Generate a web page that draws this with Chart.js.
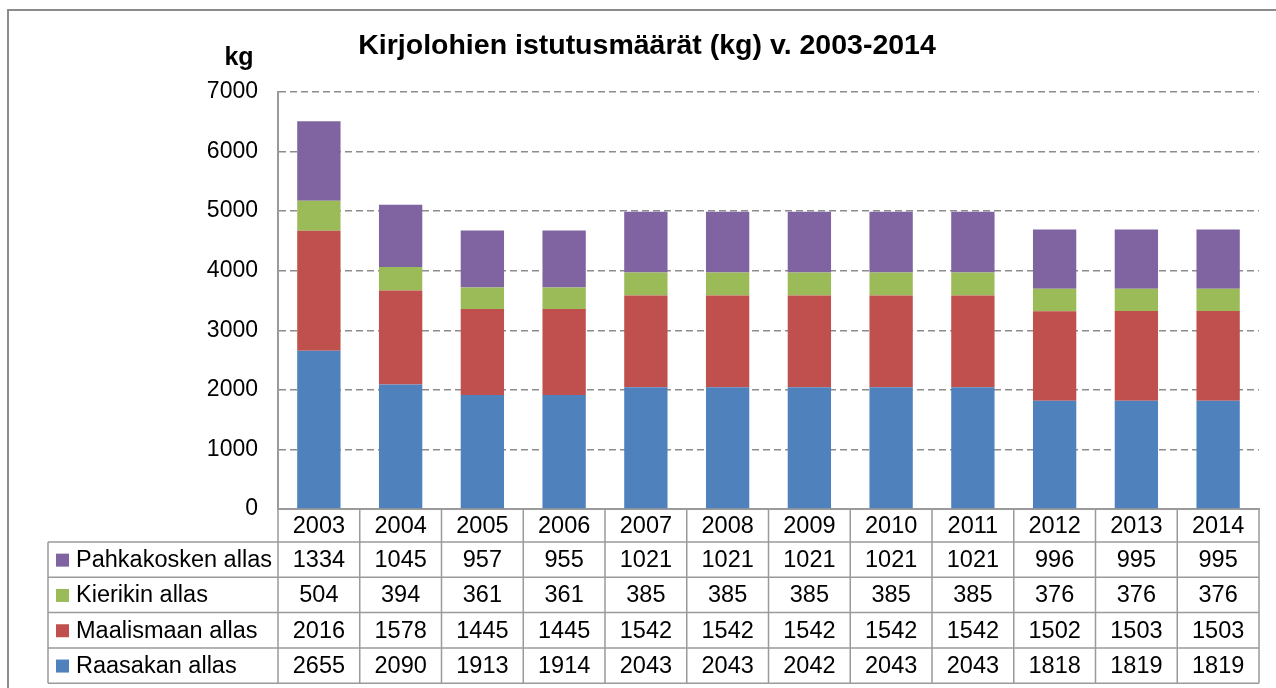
<!DOCTYPE html>
<html>
<head>
<meta charset="utf-8">
<script src="https://cdn.jsdelivr.net/npm/chart.js@4"></script>
<style>
  html, body { margin: 0; padding: 0; background: #fff; }
  #wrap { width: 1276px; height: 688px; }
</style>
</head>
<body>
<div id="wrap"><canvas id="chart" width="1276" height="688"></canvas></div>
<script>
const years = ['2003', '2004', '2005', '2006', '2007', '2008', '2009', '2010', '2011', '2012', '2013', '2014'];
const raasakan = [2655, 2090, 1913, 1914, 2043, 2043, 2042, 2043, 2043, 1818, 1819, 1819];
const maalismaan = [2016, 1578, 1445, 1445, 1542, 1542, 1542, 1542, 1542, 1502, 1503, 1503];
const kierikin = [504, 394, 361, 361, 385, 385, 385, 385, 385, 376, 376, 376];
const pahkakosken = [1334, 1045, 957, 955, 1021, 1021, 1021, 1021, 1021, 996, 995, 995];

const FONT = '"Liberation Sans", Arial, sans-serif';
const LINE = '#9a9a9a';

const datasets = [
    {label: 'Raasakan allas', data: raasakan, backgroundColor: '#4f81bd'},
    {label: 'Maalismaan allas', data: maalismaan, backgroundColor: '#c0504d'},
    {label: 'Kierikin allas', data: kierikin, backgroundColor: '#9bbb59'},
    {label: 'Pahkakosken allas', data: pahkakosken, backgroundColor: '#8064a2'},
];

// draws the frame, title, unit label and the data table under the bars
const tablePlugin = {
    id: 'dataTable',
    afterDraw(chart) {
        const ctx = chart.ctx;
        const area = chart.chartArea;
        const n = years.length;
        const colW = (area.right - area.left) / n;
        const tableLeft = 48;
        const yearTop = area.bottom;
        const rowTop = 542;
        const rowH = 35.3;
        const rows = [datasets[3], datasets[2], datasets[1], datasets[0]];

        ctx.save();
        // outer frame
        ctx.strokeStyle = '#8c8c8c';
        ctx.lineWidth = 2;
        ctx.strokeRect(8, 10, 1300, 700);

        // title + unit
        ctx.fillStyle = '#000';
        ctx.textAlign = 'center';
        ctx.textBaseline = 'middle';
        ctx.font = 'bold 28.5px ' + FONT;
        ctx.fillText('Kirjolohien istutusmäärät (kg) v. 2003-2014', 647, 46);
        ctx.font = 'bold 25px ' + FONT;
        ctx.fillText('kg', 239, 58);

        // table lines
        ctx.strokeStyle = LINE;
        ctx.lineWidth = 1.5;
        ctx.beginPath();
        for (let i = 0; i <= n; i++) {
            const x = area.left + i * colW;
            ctx.moveTo(x, yearTop);
            ctx.lineTo(x, rowTop + rows.length * rowH);
        }
        ctx.moveTo(tableLeft, rowTop);
        ctx.lineTo(tableLeft, rowTop + rows.length * rowH);
        for (let r = 0; r <= rows.length; r++) {
            const y = rowTop + r * rowH;
            ctx.moveTo(tableLeft, y);
            ctx.lineTo(area.right, y);
        }
        ctx.stroke();

        ctx.font = '23.5px ' + FONT;
        ctx.textAlign = 'center';
        years.forEach((yr, i) => {
            ctx.fillText(yr, chart.scales.x.getPixelForValue(i), (yearTop + rowTop) / 2 + 1);
        });
        rows.forEach((ds, r) => {
            const cy = rowTop + r * rowH + rowH / 2 + 1;
            ctx.fillStyle = ds.backgroundColor;
            ctx.fillRect(56, cy - 7, 13, 13);
            ctx.fillStyle = '#000';
            ctx.textAlign = 'left';
            ctx.fillText(ds.label, 76, cy);
            ctx.textAlign = 'center';
            ds.data.forEach((v, i) => {
                ctx.fillText(String(v), chart.scales.x.getPixelForValue(i), cy);
            });
        });
        ctx.restore();
    }
};

new Chart(document.getElementById('chart'), {
    type: 'bar',
    data: {labels: years, datasets: datasets},
    options: {
        responsive: false,
        animation: false,
        layout: {padding: {left: 0, top: 92, right: 17, bottom: 0}},
        datasets: {bar: {barPercentage: 0.53, categoryPercentage: 1}},
        plugins: {legend: {display: false}, title: {display: false}, tooltip: {enabled: false}},
        scales: {
            x: {
                stacked: true,
                afterFit: s => { s.height = 179; },
                ticks: {display: false},
                grid: {display: false},
                border: {color: LINE, width: 2},
            },
            y: {
                stacked: true,
                min: 0,
                max: 7000,
                afterFit: s => { s.width = 278; },
                ticks: {
                    stepSize: 1000,
                    color: '#000',
                    padding: 20,
                    font: {family: FONT, size: 23},
                    callback: v => String(v),
                },
                grid: {
                    drawTicks: false,
                    color: ctx => ctx.tick.value === 0 ? 'rgba(0,0,0,0)' : '#8c8c8c',
                    lineWidth: 1.5,
                },
                border: {color: LINE, width: 2, dash: [7, 4]},
            }
        }
    },
    plugins: [tablePlugin]
});
</script>
</body>
</html>
